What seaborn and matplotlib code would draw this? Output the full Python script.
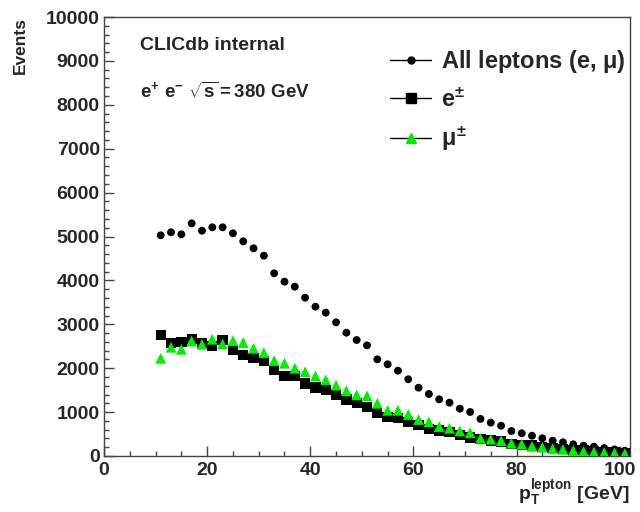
import matplotlib
matplotlib.use("Agg")
import matplotlib.pyplot as plt
from matplotlib.lines import Line2D
from matplotlib.ticker import MultipleLocator
import seaborn as sns
import pandas as pd
import numpy as np

# ---- data ----
pt = [11, 13, 15, 17, 19, 21, 23, 25, 27, 29, 31, 33, 35, 37, 39, 41, 43, 45, 47, 49,
      51, 53, 55, 57, 59, 61, 63, 65, 67, 69, 71, 73, 75, 77, 79, 81, 83, 85, 87, 89,
      91, 93, 95, 97, 99, 101]
all_leptons = [5027, 5096, 5050, 5300, 5132, 5210, 5210, 5073, 4890, 4731, 4563, 4162, 3971, 3857,
               3606, 3401, 3265, 3045, 2809, 2642, 2520, 2202, 2089, 1944, 1748, 1556, 1412, 1291,
               1215, 1078, 1002, 845, 760, 690, 569, 517, 462, 403, 349, 312, 267, 235, 212, 180,
               150, 120]
electrons = [2756, 2581, 2590, 2658, 2567, 2513, 2642, 2415, 2301, 2225, 2164, 1959, 1822, 1815,
             1650, 1560, 1503, 1400, 1285, 1208, 1115, 986, 890, 858, 780, 700, 608, 580, 540,
             478, 420, 380, 350, 330, 280, 250, 240, 200, 190, 160, 140, 130, 120, 90, 80, 70]
muons = [2225, 2476, 2430, 2620, 2544, 2658, 2551, 2626, 2585, 2453, 2353, 2171, 2112, 1998,
         1920, 1822, 1731, 1612, 1487, 1390, 1370, 1200, 1040, 1040, 945, 830, 778, 670, 631,
         570, 531, 403, 380, 350, 290, 267, 220, 200, 165, 150, 125, 105, 90, 80, 70, 55]
labels = ["All leptons (e, $\\mu$)", "e$^{\\pm}$", "$\\mu^{\\pm}$"]

sns.set_style("white")
plt.rcParams["font.family"] = ["Liberation Sans", "DejaVu Sans"]
plt.rcParams["font.weight"] = "bold"
plt.rcParams["mathtext.fontset"] = "custom"
plt.rcParams["mathtext.rm"] = "Liberation Sans"
plt.rcParams["mathtext.it"] = "Liberation Sans"
plt.rcParams["mathtext.bf"] = "Liberation Sans:bold"

df_all = pd.DataFrame({"pt": pt, "n": all_leptons})
df_e = pd.DataFrame({"pt": pt, "n": electrons})
df_mu = pd.DataFrame({"pt": pt, "n": muons})

fig = plt.figure(figsize=(6.4, 5.12), dpi=100)
ax = fig.add_axes([104 / 640, 1 - 456 / 512, (630 - 104) / 640, (456 - 17) / 512])

sns.scatterplot(data=df_all, x="pt", y="n", ax=ax, marker="o", s=32, color="black",
                edgecolor="none", legend=False, zorder=3)
sns.scatterplot(data=df_e, x="pt", y="n", ax=ax, marker="s", s=55, color="black",
                edgecolor="none", legend=False, zorder=4)
sns.scatterplot(data=df_mu, x="pt", y="n", ax=ax, marker="^", s=60, color="#00ee00",
                edgecolor="none", legend=False, zorder=5)

ax.set_xlim(0, 102)
ax.set_ylim(0, 10000)
ax.xaxis.set_major_locator(MultipleLocator(20))
ax.xaxis.set_minor_locator(MultipleLocator(5))
ax.yaxis.set_major_locator(MultipleLocator(1000))
ax.yaxis.set_minor_locator(MultipleLocator(200))
ax.tick_params(which="both", direction="in", top=False, right=False, bottom=True, left=True,
               labelsize=14, color="#444444")
ax.tick_params(which="major", length=7, width=1)
ax.tick_params(which="minor", length=3.5, width=1)
ax.tick_params(axis="y", pad=3)
ax.tick_params(axis="x", pad=4)
for lab in ax.get_xticklabels() + ax.get_yticklabels():
    lab.set_fontweight("bold")
for sp in ax.spines.values():
    sp.set_visible(True)
    sp.set_color("#444444")
    sp.set_linewidth(1.0)

ax.set_ylabel("Events", fontsize=12.5, fontweight="bold", loc="top")
ax.yaxis.set_label_coords(-0.145, 1.0)
ax.set_xlabel("$\\mathbf{p_{T}^{lepton}}$ [GeV]", fontsize=14, fontweight="bold", loc="right")
ax.xaxis.set_label_coords(1.0, -0.05)

ax.text(140 / 640, 1 - 45 / 512, "CLICdb internal", transform=fig.transFigure,
        fontsize=14, fontweight="bold", va="center", ha="left")
ax.text(140 / 640, 1 - 92 / 512, "$\\mathbf{e^{+}\\ e^{-}\\ \\sqrt{s}{=}380\\ GeV}$",
        transform=fig.transFigure, fontsize=13.5, va="center", ha="left")

handles = [
    Line2D([], [], color="black", lw=1, marker="o", markersize=5),
    Line2D([], [], color="black", lw=1, marker="s", markersize=7),
    Line2D([], [], color="black", lw=1, marker="^", markersize=7,
           markerfacecolor="#00ee00", markeredgecolor="#00ee00"),
]
leg = fig.legend(handles, labels, loc="upper left", bbox_to_anchor=(390 / 640, 1 - 48 / 512),
                 frameon=False, fontsize=17, handlelength=1.75, handletextpad=0.4,
                 labelspacing=0.55, borderaxespad=0, borderpad=0)
for t in leg.get_texts():
    t.set_fontweight("bold")

fig.savefig("out.png", dpi=100)
